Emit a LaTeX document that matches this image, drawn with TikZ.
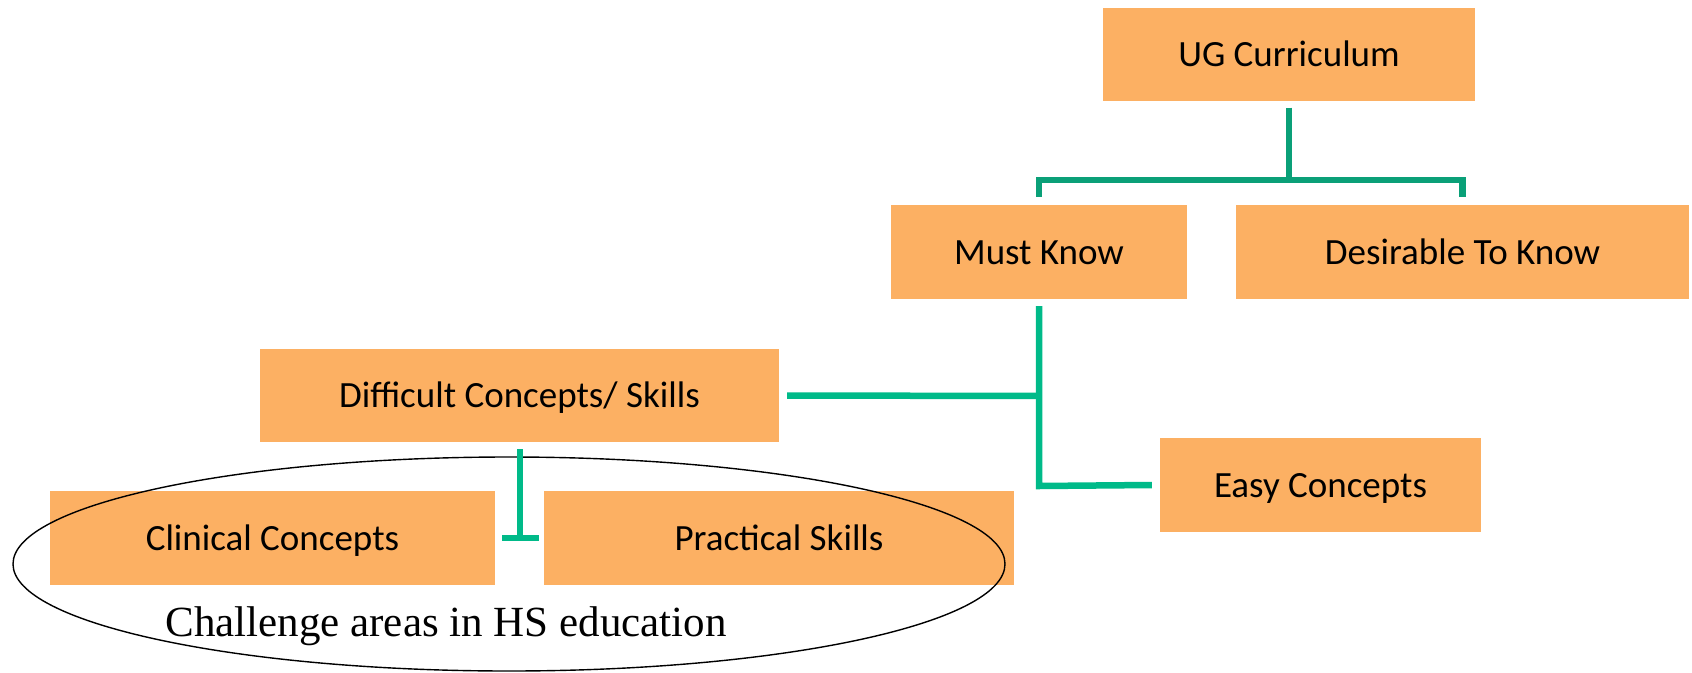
\documentclass[tikz,border=0pt]{standalone}
\usepackage{fontspec}
\setmainfont{Carlito}
\newfontfamily\timesfont{Liberation Serif}
\definecolor{boxfill}{RGB}{252,176,99}
\definecolor{conntop}{RGB}{10,160,120}
\definecolor{connlow}{RGB}{0,186,137}
\tikzset{
  box/.style={fill=boxfill, draw=none, inner sep=0pt, text height=24pt, text depth=0pt, font=\fontsize{37}{44}\selectfont},
  conn/.style={draw=connlow, line width=6.5pt},
  conntopstyle/.style={draw=conntop, line width=6.5pt}
}
\begin{document}
\begin{tikzpicture}[x=1pt,y=-1pt]
\useasboundingbox (0,0) rectangle (1692,672);
\node[box, minimum width=372pt, minimum height=93pt] (ug) at (1289,54) {UG Curriculum};
\node[box, minimum width=296pt, minimum height=94pt] (mk) at (1039,252) {Must Know};
\node[box, minimum width=453pt, minimum height=94pt] (dk) at (1462.5,252) {Desirable To Know};
\node[box, minimum width=519pt, minimum height=93pt] (dc) at (519.5,395.5) {Difficult Concepts/ Skills};
\node[box, minimum width=321pt, minimum height=94pt] (ez) at (1320.5,485) {Easy Concepts};
\node[box, minimum width=445pt, minimum height=94pt] (cc) at (272.5,538) {Clinical Concepts};
\node[box, minimum width=470pt, minimum height=94pt] (ps) at (779,538) {Practical Skills};
\draw[black, line width=1.4pt] (509,564) ellipse [x radius=496, y radius=107];
\node[font=\timesfont\fontsize{43}{50}\selectfont] (ch) at (446,626) {Challenge areas in HS education};
% connectors
\coordinate (j1) at (1289,180);
\coordinate (j2) at (1039,396);
\coordinate (j3) at (1039,486);
\coordinate (tb) at (520,538);
\coordinate (tl) at (502,538);
\coordinate (tr) at (539,538);
\draw[conntopstyle] ([yshift=-7pt]ug.south) -- (j1);
\draw[conntopstyle] ([yshift=8pt]mk.north) |- (j1) -| ([yshift=8pt]dk.north);
\draw[conn] ([yshift=-7pt]mk.south) -- (j3) -- ([xshift=-8pt]ez.west);
\draw[conn] ([xshift=8pt]dc.east) -- (j2);
\draw[conn] ([yshift=-7pt]dc.south -| tb) -- (tb);
\draw[conn] (tl) -- (tr);
\end{tikzpicture}
\end{document}
